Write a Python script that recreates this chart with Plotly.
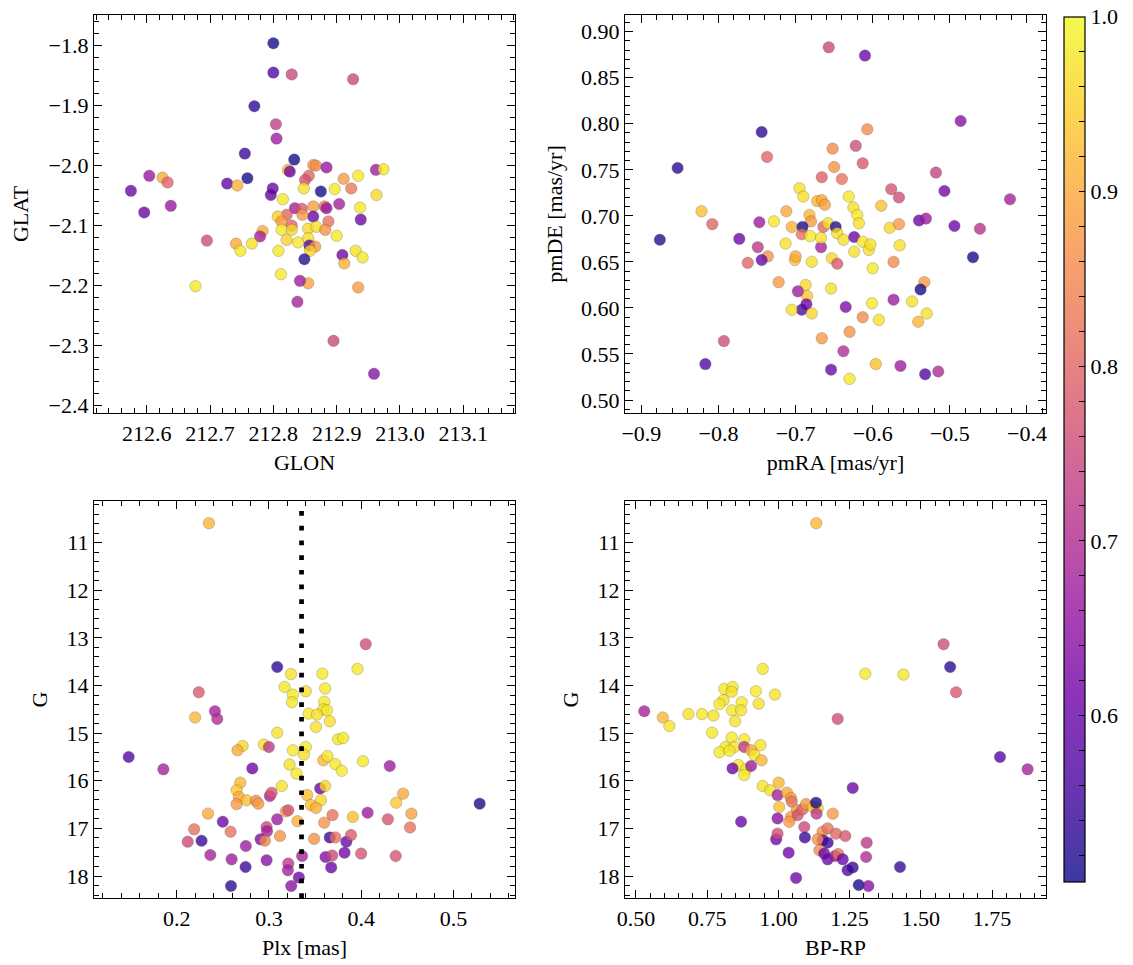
import plotly.graph_objects as go
import plotly.colors as pc

# ---------------- data ----------------
glon = [212.800, 212.800, 212.829, 212.926, 212.770, 212.804, 212.805, 212.755, 212.833, 212.863,
        212.867, 212.884, 212.823, 212.826, 212.856, 212.850, 212.604, 212.625, 212.633, 212.575,
        212.596, 212.638, 212.727, 212.743, 212.759, 212.799, 212.796, 212.848, 212.875, 212.897,
        212.911, 212.923, 212.934, 212.962, 212.974, 212.963, 212.937, 212.938, 212.904, 212.815,
        212.834, 212.845, 212.863, 212.881, 212.884, 212.821, 212.807, 212.863, 212.813, 212.829,
        212.887, 212.846, 212.855, 212.868, 212.882, 212.813, 212.829, 212.783, 212.779, 212.821,
        212.839, 212.855, 212.900, 212.857, 212.866, 212.858, 212.695, 212.741, 212.766, 212.748,
        212.808, 212.849, 212.909, 212.912, 212.930, 212.941, 212.812, 212.855, 212.842, 212.677,
        212.934, 212.838, 212.895, 212.959]
glat = [-1.797, -1.846, -1.849, -1.857, -1.902, -1.932, -1.956, -1.981, -1.991, -2.000,
        -2.001, -2.004, -2.008, -2.011, -2.018, -2.025, -2.018, -2.021, -2.029, -2.043,
        -2.079, -2.068, -2.031, -2.034, -2.022, -2.039, -2.050, -2.039, -2.044, -2.040,
        -2.023, -2.039, -2.018, -2.008, -2.007, -2.050, -2.071, -2.091, -2.065, -2.057,
        -2.072, -2.073, -2.069, -2.069, -2.072, -2.083, -2.086, -2.086, -2.094, -2.101,
        -2.094, -2.083, -2.106, -2.103, -2.108, -2.108, -2.108, -2.110, -2.119, -2.125,
        -2.129, -2.122, -2.118, -2.134, -2.136, -2.143, -2.126, -2.131, -2.131, -2.143,
        -2.143, -2.157, -2.150, -2.164, -2.143, -2.154, -2.182, -2.197, -2.193, -2.202,
        -2.204, -2.228, -2.293, -2.348]
prob_pos = [0.51, 0.57, 0.75, 0.75, 0.53, 0.73, 0.67, 0.545, 0.51, 0.88,
            0.86, 0.66, 0.93, 0.61, 0.80, 0.77, 0.66, 0.90, 0.80, 0.60,
            0.60, 0.66, 0.59, 0.91, 0.51, 0.60, 0.59, 0.97, 0.51, 0.98,
            0.88, 0.83, 0.98, 0.67, 0.98, 0.96, 0.98, 0.61, 0.68, 0.98,
            0.68, 0.78, 0.88, 0.82, 0.66, 0.80, 0.95, 0.60, 0.88, 0.80,
            0.82, 0.88, 0.96, 0.97, 0.87, 0.98, 0.96, 0.90, 0.68, 0.95,
            0.98, 0.97, 0.98, 0.57, 0.88, 0.96, 0.76, 0.90, 0.97, 0.98,
            0.98, 0.53, 0.60, 0.91, 0.97, 0.98, 0.98, 0.89, 0.67, 0.98,
            0.88, 0.68, 0.75, 0.64]

pmra = [-0.657, -0.610, -0.486, -0.744, -0.607, -0.622, -0.652, -0.737, -0.853, -0.650,
        -0.613, -0.666, -0.640, -0.518, -0.507, -0.576, -0.566, -0.422, -0.695, -0.690,
        -0.631, -0.672, -0.666, -0.662, -0.625, -0.589, -0.822, -0.808, -0.712, -0.728,
        -0.682, -0.680, -0.705, -0.691, -0.692, -0.664, -0.658, -0.648, -0.646, -0.620,
        -0.618, -0.681, -0.747, -0.773, -0.876, -0.749, -0.736, -0.744, -0.762, -0.713,
        -0.701, -0.700, -0.679, -0.667, -0.667, -0.638, -0.653, -0.646, -0.624, -0.624,
        -0.613, -0.605, -0.603, -0.600, -0.578, -0.566, -0.565, -0.573, -0.540, -0.531,
        -0.494, -0.461, -0.470, -0.722, -0.687, -0.685, -0.697, -0.686, -0.692, -0.705,
        -0.679, -0.654, -0.635, -0.601, -0.613, -0.592, -0.573, -0.549, -0.533, -0.538,
        -0.530, -0.541, -0.793, -0.666, -0.630, -0.638, -0.817, -0.654, -0.596, -0.630,
        -0.564, -0.532, -0.515]
pmde = [0.883, 0.874, 0.803, 0.791, 0.794, 0.776, 0.773, 0.764, 0.752, 0.753,
        0.757, 0.742, 0.740, 0.747, 0.727, 0.729, 0.720, 0.718, 0.730, 0.721,
        0.721, 0.716, 0.717, 0.712, 0.709, 0.711, 0.705, 0.691, 0.705, 0.694,
        0.701, 0.694, 0.688, 0.688, 0.680, 0.688, 0.692, 0.688, 0.681, 0.701,
        0.692, 0.678, 0.693, 0.675, 0.674, 0.666, 0.656, 0.652, 0.649, 0.670,
        0.652, 0.656, 0.650, 0.666, 0.676, 0.674, 0.654, 0.648, 0.677, 0.661,
        0.672, 0.663, 0.669, 0.643, 0.687, 0.691, 0.668, 0.650, 0.695, 0.697,
        0.689, 0.686, 0.655, 0.628, 0.625, 0.613, 0.618, 0.604, 0.598, 0.598,
        0.594, 0.621, 0.601, 0.605, 0.590, 0.587, 0.609, 0.607, 0.628, 0.620,
        0.594, 0.585, 0.564, 0.567, 0.574, 0.553, 0.539, 0.533, 0.539, 0.523,
        0.537, 0.528, 0.531]
prob_pm = [0.75, 0.60, 0.64, 0.53, 0.86, 0.76, 0.86, 0.80, 0.53, 0.87,
           0.78, 0.79, 0.82, 0.74, 0.61, 0.77, 0.76, 0.68, 0.97, 0.97,
           0.98, 0.92, 0.90, 0.89, 0.97, 0.93, 0.93, 0.80, 0.90, 0.98,
           0.92, 0.88, 0.91, 0.51, 0.82, 0.80, 0.97, 0.53, 0.97, 0.98,
           0.97, 0.98, 0.67, 0.61, 0.53, 0.72, 0.87, 0.60, 0.80, 0.97,
           0.93, 0.90, 0.97, 0.68, 0.97, 0.97, 0.96, 0.78, 0.60, 0.97,
           0.98, 0.97, 0.97, 0.98, 0.96, 0.88, 0.97, 0.86, 0.60, 0.67,
           0.61, 0.71, 0.51, 0.88, 0.96, 0.94, 0.67, 0.61, 0.57, 0.97,
           0.96, 0.97, 0.63, 0.98, 0.86, 0.97, 0.67, 0.97, 0.88, 0.51,
           0.97, 0.92, 0.76, 0.88, 0.87, 0.70, 0.57, 0.60, 0.93, 0.98,
           0.67, 0.57, 0.70]

plx = [0.235, 0.405, 0.309, 0.324, 0.358, 0.396, 0.317, 0.340, 0.326, 0.325,
       0.361, 0.360, 0.359, 0.363, 0.343, 0.352, 0.366, 0.351, 0.224, 0.2415,
       0.244, 0.220, 0.309, 0.375, 0.3805, 0.2715, 0.266, 0.2946, 0.300, 0.326,
       0.340, 0.338, 0.359, 0.3635, 0.372, 0.379, 0.402, 0.3224, 0.330, 0.148,
       0.1856, 0.282, 0.431, 0.269, 0.265, 0.2675, 0.2758, 0.265, 0.286, 0.2885,
       0.301, 0.303, 0.314, 0.3556, 0.361, 0.3415, 0.3563, 0.3455, 0.351, 0.3184,
       0.321, 0.438, 0.4455, 0.4545, 0.5285, 0.407, 0.391, 0.369, 0.360, 0.331,
       0.234, 0.309, 0.250, 0.219, 0.2585, 0.2975, 0.298, 0.291, 0.2957, 0.312,
       0.212, 0.227, 0.275, 0.349, 0.366, 0.372, 0.384, 0.389, 0.400, 0.429,
       0.453, 0.4375, 0.2365, 0.2596, 0.2747, 0.2975, 0.321, 0.3206, 0.3325, 0.3242,
       0.2589, 0.336, 0.3614, 0.3686, 0.382, 0.3675]
g_plx = [10.59, 13.13, 13.61, 13.76, 13.75, 13.65, 14.03, 14.12, 14.19, 14.35,
         14.06, 14.34, 14.50, 14.52, 14.59, 14.61, 14.75, 14.87, 14.14, 14.54,
         14.70, 14.67, 14.99, 15.13, 15.10, 15.27, 15.36, 15.24, 15.29, 15.36,
         15.29, 15.45, 15.57, 15.48, 15.65, 15.79, 15.59, 15.66, 15.85, 15.50,
         15.76, 15.74, 15.69, 16.04, 16.20, 16.34, 16.41, 16.49, 16.42, 16.48,
         16.32, 16.25, 16.11, 16.16, 16.11, 16.30, 16.41, 16.51, 16.57, 16.64,
         16.62, 16.46, 16.27, 16.69, 16.48, 16.67, 16.76, 16.72, 16.88, 16.85,
         16.69, 16.81, 16.86, 17.02, 17.07, 16.97, 17.06, 17.23, 17.26, 17.16,
         17.28, 17.26, 17.37, 17.22, 17.19, 17.19, 17.28, 17.14, 17.53, 16.81,
         16.98, 17.58, 17.56, 17.65, 17.81, 17.67, 17.74, 17.88, 18.03, 18.21,
         18.21, 17.58, 17.60, 17.57, 17.51, 17.82]
prob_plx = [0.92, 0.76, 0.53, 0.97, 0.98, 0.98, 0.98, 0.97, 0.98, 0.98,
            0.98, 0.98, 0.97, 0.98, 0.98, 0.97, 0.97, 0.97, 0.78, 0.68,
            0.70, 0.92, 0.97, 0.98, 0.98, 0.96, 0.90, 0.97, 0.72, 0.98,
            0.98, 0.97, 0.92, 0.98, 0.98, 0.98, 0.98, 0.97, 0.98, 0.57,
            0.68, 0.61, 0.67, 0.92, 0.94, 0.90, 0.93, 0.88, 0.86, 0.88,
            0.68, 0.78, 0.97, 0.60, 0.96, 0.93, 0.96, 0.93, 0.91, 0.88,
            0.77, 0.94, 0.90, 0.89, 0.51, 0.67, 0.93, 0.82, 0.87, 0.91,
            0.90, 0.67, 0.60, 0.82, 0.82, 0.75, 0.68, 0.63, 0.85, 0.87,
            0.75, 0.545, 0.67, 0.87, 0.545, 0.82, 0.60, 0.78, 0.77, 0.77,
            0.82, 0.77, 0.68, 0.67, 0.545, 0.64, 0.72, 0.68, 0.61, 0.64,
            0.53, 0.68, 0.63, 0.75, 0.61, 0.60]
plx_ref = 0.3354

bprp = [1.133, 1.580, 1.603, 1.624, 1.305, 1.439, 0.945, 0.529, 0.594, 0.617,
        0.684, 0.732, 0.772, 0.767, 0.810, 0.839, 0.836, 0.807, 0.793, 0.871,
        0.837, 0.869, 0.848, 0.921, 0.931, 0.988, 1.208, 0.836, 0.880, 0.814,
        0.845, 0.880, 0.793, 0.828, 0.937, 0.904, 0.916, 0.941, 0.859, 0.886,
        0.880, 0.839, 0.904, 1.778, 1.875, 0.945, 0.971, 1.001, 0.997, 1.030,
        1.044, 1.003, 1.047, 1.065, 1.044, 1.068, 1.038, 1.085, 1.097, 1.120,
        1.138, 1.132, 1.134, 1.091, 1.191, 1.261, 0.869, 0.997, 0.992, 1.093,
        1.036, 1.062, 1.155, 1.173, 1.202, 1.235, 1.155, 1.173, 1.138, 1.144,
        1.161, 1.173, 1.199, 1.210, 1.226, 1.243, 1.261, 1.310, 1.308, 1.427,
        1.282, 1.316, 0.997]
g_cmd = [10.59, 13.13, 13.61, 14.14, 13.75, 13.77, 13.65, 14.54, 14.67, 14.85,
         14.60, 14.60, 14.63, 14.99, 14.07, 14.03, 14.13, 14.31, 14.39, 14.35,
         14.52, 14.52, 14.75, 14.12, 14.38, 14.19, 14.70, 15.09, 15.13, 15.29,
         15.29, 15.29, 15.40, 15.37, 15.25, 15.36, 15.46, 15.57, 15.67, 15.76,
         15.88, 15.74, 15.69, 15.50, 15.76, 16.11, 16.20, 16.04, 16.30, 16.25,
         16.36, 16.55, 16.44, 16.62, 16.76, 16.72, 16.86, 16.60, 16.49, 16.55,
         16.58, 16.46, 16.69, 16.97, 16.69, 16.15, 16.86, 16.79, 17.23, 17.19,
         17.51, 18.04, 17.07, 17.00, 17.11, 17.16, 17.25, 17.30, 17.23, 17.46,
         17.53, 17.65, 17.58, 17.54, 17.65, 17.88, 17.82, 17.30, 17.60, 17.81,
         18.19, 18.21, 17.11]
prob_cmd = [0.92, 0.76, 0.53, 0.78, 0.98, 0.98, 0.98, 0.68, 0.92, 0.97,
            0.97, 0.98, 0.97, 0.98, 0.98, 0.98, 0.97, 0.97, 0.98, 0.98,
            0.98, 0.97, 0.97, 0.98, 0.97, 0.97, 0.76, 0.98, 0.98, 0.98,
            0.97, 0.72, 0.98, 0.98, 0.97, 0.90, 0.98, 0.92, 0.98, 0.98,
            0.98, 0.61, 0.67, 0.57, 0.68, 0.97, 0.97, 0.92, 0.68, 0.90,
            0.88, 0.93, 0.82, 0.88, 0.88, 0.77, 0.88, 0.80, 0.88, 0.93,
            0.96, 0.51, 0.72, 0.75, 0.88, 0.60, 0.60, 0.64, 0.61, 0.545,
            0.61, 0.61, 0.86, 0.82, 0.80, 0.77, 0.61, 0.545, 0.87, 0.86,
            0.61, 0.60, 0.66, 0.82, 0.60, 0.57, 0.545, 0.72, 0.70, 0.545,
            0.51, 0.64, 0.76]

cb_min, cb_max = 0.505, 1.0
cb_major = [0.6, 0.7, 0.8, 0.9, 1.0]

# ---------------- style ----------------
W, H = 1133, 965
FONT = "Liberation Serif"
FS = 22

def px_x(p):
    return p / W

def px_y(p):
    return (H - p) / H

plasma = pc.sequential.Plasma
def lighten(hexc, a=0.8):
    r, g, b = pc.hex_to_rgb(hexc)
    return "rgb(%d,%d,%d)" % (round(a * r + (1 - a) * 255), round(a * g + (1 - a) * 255), round(a * b + (1 - a) * 255))
n = len(plasma)
plasma_light = [[i / (n - 1), lighten(c)] for i, c in enumerate(plasma)]

marker_common = dict(size=11.5, colorscale="Plasma", cmin=cb_min, cmax=cb_max,
                     opacity=0.78, line=dict(width=0.4, color="rgba(40,40,40,0.7)"), showscale=False)

fig = go.Figure()
fig.add_trace(go.Scatter(x=glon, y=glat, mode="markers", xaxis="x", yaxis="y",
                         marker=dict(color=prob_pos, **marker_common), showlegend=False))
fig.add_trace(go.Scatter(x=pmra, y=pmde, mode="markers", xaxis="x2", yaxis="y2",
                         marker=dict(color=prob_pm, **marker_common), showlegend=False))
fig.add_trace(go.Scatter(x=plx, y=g_plx, mode="markers", xaxis="x3", yaxis="y3",
                         marker=dict(color=prob_plx, **marker_common), showlegend=False))
fig.add_trace(go.Scatter(x=bprp, y=g_cmd, mode="markers", xaxis="x4", yaxis="y4",
                         marker=dict(color=prob_cmd, **marker_common), showlegend=False))

tickvals = [round(0.52 + 0.02 * i, 2) for i in range(25)]
ticktext = [("%.1f" % v) if any(abs(v - m) < 1e-6 for m in cb_major) else "" for v in tickvals]
fig.add_trace(go.Scatter(x=[None], y=[None], mode="markers", xaxis="x", yaxis="y", showlegend=False,
                         marker=dict(color=[cb_min, cb_max], colorscale=plasma_light, cmin=cb_min, cmax=cb_max,
                                     showscale=True,
                                     colorbar=dict(x=px_x(1064), xanchor="left", y=px_y(16.7), yanchor="top",
                                                   len=(881.7 - 16.7) / H, lenmode="fraction",
                                                   thickness=21, thicknessmode="pixels",
                                                   outlinewidth=1.2, outlinecolor="black",
                                                   ticks="inside", ticklen=6, tickwidth=1, tickcolor="black",
                                                   tickmode="array", tickvals=tickvals, ticktext=ticktext,
                                                   tickfont=dict(family=FONT, size=FS, color="black"),
                                                   xpad=0, ypad=0))))

def axis(domain, rng, dtick, mdtick, fmt, title, anchor, standoff=10):
    return dict(domain=domain, range=rng, anchor=anchor, autorange=False, automargin=False,
                showline=True, linecolor="black", linewidth=1.3, mirror="ticks",
                ticks="inside", ticklen=8, tickwidth=1, tickcolor="black",
                tick0=0, dtick=dtick, tickformat=fmt,
                minor=dict(ticks="inside", ticklen=4.5, tickwidth=1, tickcolor="black", dtick=mdtick, tick0=0),
                showgrid=False, zeroline=False,
                tickfont=dict(family=FONT, size=FS, color="black"),
                title=dict(text=title, font=dict(family=FONT, size=FS, color="black"), standoff=standoff))

xl = [px_x(94), px_x(515)]
xr = [px_x(625), px_x(1046)]
yt = [px_y(413), px_y(15)]
yb = [px_y(898), px_y(501)]

fig.update_layout(
    width=W, height=H, margin=dict(l=0, r=0, t=0, b=0, autoexpand=False),
    paper_bgcolor="white", plot_bgcolor="white",
    xaxis=axis(xl, [212.5167, 213.1817], 0.1, 0.02, ".1f", "GLON", "y"),
    yaxis=axis(yt, [-2.4133, -1.75], 0.1, 0.02, ".1f", "GLAT", "x", standoff=13),
    xaxis2=axis(xr, [-0.9212, -0.3753], 0.1, 0.02, ".1f", "pmRA [mas/yr]", "y2"),
    yaxis2=axis(yt, [0.4859, 0.9181], 0.05, 0.01, ".2f", "pmDE [mas/yr]", "x2", standoff=12),
    xaxis3=axis(xl, [0.1104, 0.5668], 0.1, 0.02, ".1f", "Plx [mas]", "y3"),
    yaxis3=axis(yb, [18.462, 10.124], 1, 0.2, "d", "G", "x3", standoff=12),
    xaxis4=axis(xr, [0.4614, 1.9396], 0.25, 0.05, ".2f", "BP-RP", "y4"),
    yaxis4=axis(yb, [18.462, 10.124], 1, 0.2, "d", "G", "x4", standoff=12),
    shapes=[dict(type="line", xref="x3", yref="y3 domain", x0=plx_ref, x1=plx_ref, y0=0, y1=1,
                 line=dict(color="black", width=4.7, dash="4.7px,10px"), layer="above")],
)

fig.write_html("out.html", config={"displayModeBar": False},
               post_script="document.body.style.margin='0px';document.body.style.overflow='hidden';")
